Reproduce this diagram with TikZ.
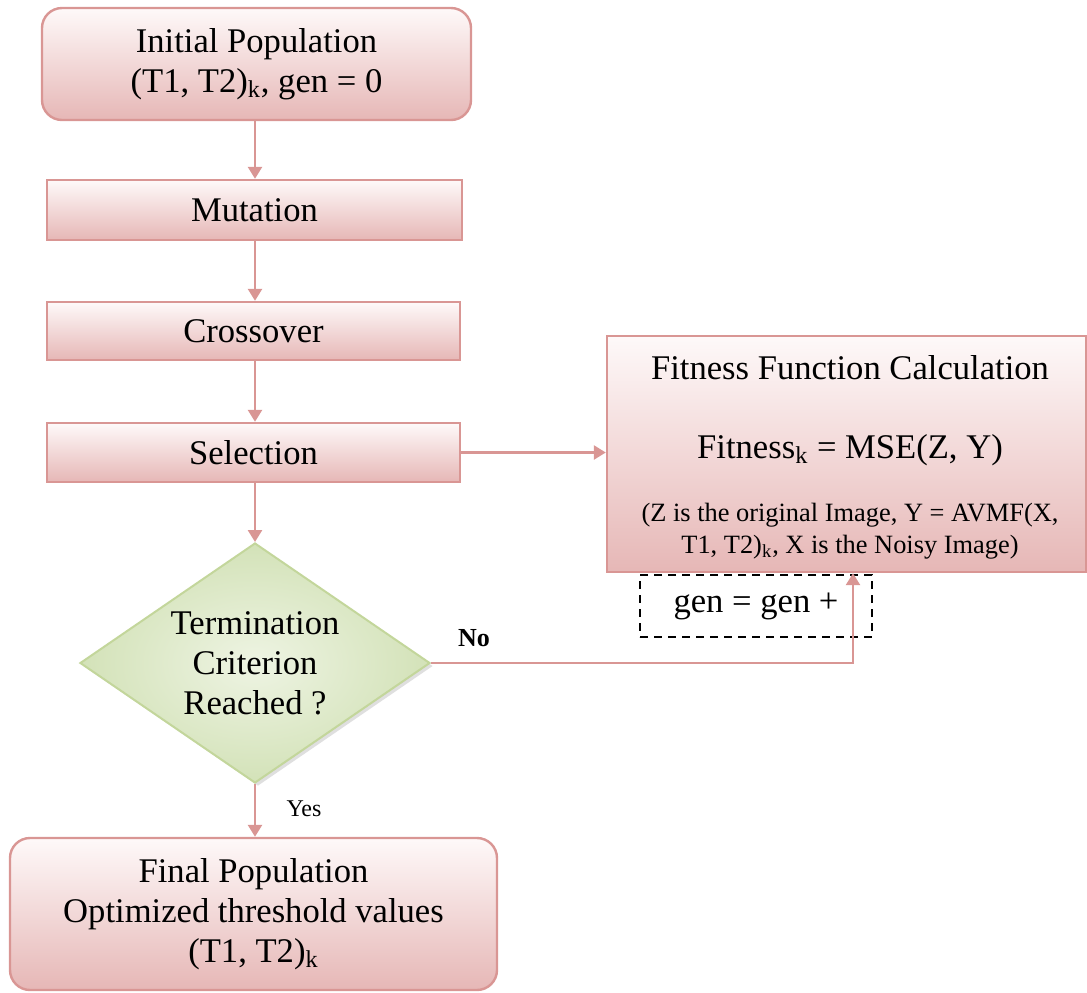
\documentclass[tikz,border=0pt]{standalone}
\usepackage{fontspec}
\setmainfont{Liberation Serif}
\usetikzlibrary{shapes.geometric,arrows.meta,shadows}
\definecolor{edgepink}{HTML}{D99694}
\definecolor{fillpink}{HTML}{E6B7B6}
\definecolor{toppink}{HTML}{FEF9F9}
\definecolor{greenedge}{HTML}{C3D69B}
\definecolor{greenin}{HTML}{EEF4E3}
\definecolor{greenout}{HTML}{D3E2B8}
\tikzset{
  stepbox/.style={draw=edgepink, line width=1.2pt, top color=toppink, bottom color=fillpink,
    inner sep=0pt, align=center, font=\fontsize{17.3}{20}\selectfont},
  roundbox/.style={stepbox, rounded corners=10pt},
  flow/.style={draw=edgepink, line width=1.3pt, -{Triangle[width=7pt,length=6pt]}},
  decision/.style={diamond, draw=greenedge, line width=1pt, inner color=greenin, outer color=greenout,
    inner sep=0pt, drop shadow={shadow xshift=1.5pt, shadow yshift=-1.5pt, fill=black!25}},
  maintext/.style={font=\fontsize{17.3}{20}\selectfont, align=center, inner sep=0pt},
  smalltext/.style={font=\fontsize{13.2}{16}\selectfont, align=center, inner sep=0pt},
}
\begin{document}
\begin{tikzpicture}[x=0.5pt, y=-0.5pt]
\useasboundingbox (0,0) rectangle (1087,992);

% process chain
\node[roundbox, minimum width=214.5pt, minimum height=56pt] (init) at (256.5,64)
  {Initial Population\\(T1, T2)\textsubscript{k}, gen = 0};
\node[stepbox, minimum width=207.5pt, minimum height=30pt] (mut) at (254.5,210) {Mutation};
\node[stepbox, minimum width=206.5pt, minimum height=29pt] (cross) at (253.5,331) {Crossover};
\node[stepbox, minimum width=206.5pt, minimum height=29.5pt] (sel) at (253.5,452.5) {Selection};

% fitness evaluation
\node[stepbox, minimum width=239.5pt, minimum height=118pt] (fit) at (846.5,454) {};
\node[maintext] (fittitle) at (850,368) {Fitness Function Calculation};
\node[maintext] (fiteq) at (850,450) {Fitness\textsubscript{k} = MSE(Z, Y)};
\node[smalltext] (fitnote) at (850,531)
  {(Z is the original Image, Y = AVMF(X,\\T1, T2)\textsubscript{k}, X is the Noisy Image)};

% generation counter
\node[draw=black, dashed, line width=0.9pt, dash pattern=on 4pt off 3pt,
  minimum width=116pt, minimum height=31pt, inner sep=0pt] (gen) at (756,606) {};
\node[maintext] (gentext) at (756,606) {gen = gen +};

% decision
\node[decision, minimum width=175pt, minimum height=120pt] (dec) at (255,663) {};
\node[maintext] (dectext) at (255,663) {Termination\\Criterion\\Reached ?};

% final result
\node[roundbox, minimum width=243.5pt, minimum height=76pt] (final) at (253.5,914)
  {Final Population\\Optimized threshold values\\(T1, T2)\textsubscript{k}};

% connectors: a vertical spine through the left column
\coordinate (spine) at (255,0);
\coordinate (loopx) at (853,0);
\draw[flow] (init.south -| spine) -- (mut.north -| spine);
\draw[flow] (mut.south -| spine) -- (cross.north -| spine);
\draw[flow] (cross.south -| spine) -- (sel.north -| spine);
\draw[flow] (sel.south -| spine) -- (dec.north);
\draw[flow] (sel.east) -- (sel.east -| fit.west);
\draw[flow] (dec.east) -- (dec.east -| loopx) -- (fit.south -| loopx);
\draw[flow] (dec.south) -- (final.north -| dec.south);

% branch labels
\node[font=\fontsize{13}{15}\selectfont\bfseries, inner sep=0pt] (nolab) at (474,638) {No};
\node[font=\fontsize{12}{14}\selectfont, inner sep=0pt] (yeslab) at (304,809) {Yes};
\end{tikzpicture}
\end{document}
